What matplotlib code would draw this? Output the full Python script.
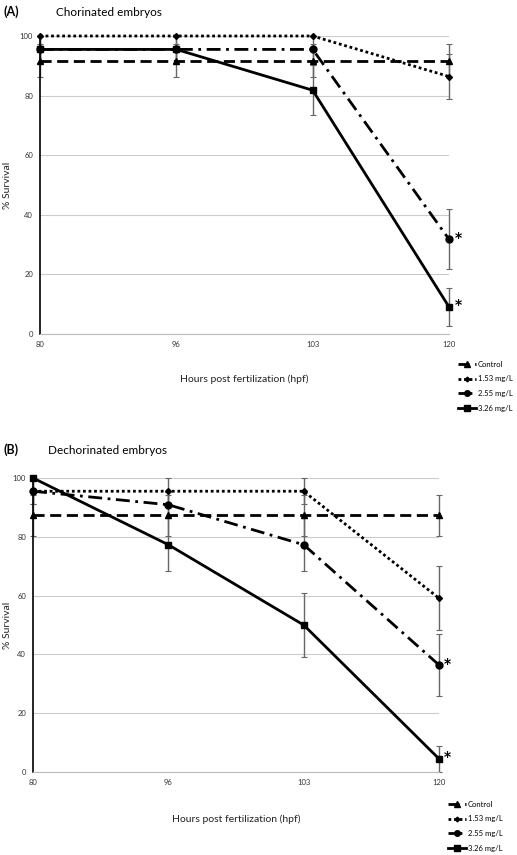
import matplotlib
matplotlib.use("Agg")
import matplotlib.pyplot as plt
import numpy as np

plt.rcParams["font.family"] = ["Lato", "DejaVu Sans"]

hours = ["80", "96", "103", "120"]
series = ["Control", "1.53 mg/L", "2.55 mg/L", "3.26 mg/L"]

# Panel A: chorinated
a_control = [91.7, 91.7, 91.7, 91.7]
a_153 = [100, 100, 100, 86.4]
a_255 = [95.5, 95.5, 95.5, 31.8]
a_326 = [95.5, 95.5, 81.8, 9.1]
a_control_err = [5.6, 5.6, 5.6, 5.6]
a_153_err = [0, 0, 0, 7.6]
a_255_err = [4.5, 4.5, 4.5, 10.1]
a_326_err = [4.5, 4.5, 8.4, 6.3]

# Panel B: dechorinated
b_control = [87.3, 87.3, 87.3, 87.3]
b_153 = [95.5, 95.5, 95.5, 59.1]
b_255 = [95.5, 90.9, 77.3, 36.4]
b_326 = [100, 77.3, 50.0, 4.5]
b_control_err = [6.9, 6.9, 6.9, 6.9]
b_153_err = [4.5, 4.5, 4.5, 10.8]
b_255_err = [4.5, 4.5, 9.1, 10.6]
b_326_err = [0, 9.1, 10.9, 4.5]

styles = [
    dict(ls=(0, (4, 2)), marker="^", ms=5),
    dict(ls=(0, (1, 1)), marker="D", ms=3),
    dict(ls=(0, (5, 2, 1, 2)), marker="o", ms=5),
    dict(ls="-", marker="s", ms=5),
]

fig = plt.figure(figsize=(5.17, 8.55), dpi=100)

def panel(rect, vals, errs, letter, title, title_x, title_y, xl_y, leg_y):
    ax = fig.add_axes(rect)
    x = np.arange(len(hours))
    for v, e in zip(vals, errs):
        c = ax.errorbar(x, v, yerr=e, fmt="none", ecolor="#666666", elinewidth=1.0,
                        capsize=2, capthick=0.8, zorder=2)
        for art in c.lines[1]:
            art.set_clip_on(False)
        for art in c.lines[2]:
            art.set_clip_on(False)
    handles = []
    for v, st, name in zip(vals, styles, series):
        h, = ax.plot(x, v, color="black", lw=2.0, ls=st["ls"], marker=st["marker"],
                     ms=st["ms"], mfc="black", mec="black", label=name, zorder=3,
                     clip_on=False)
        handles.append(h)
    for v in (vals[2], vals[3]):
        ax.text(x[-1] + 0.065, v[-1] + 0.5, "*", fontsize=10, fontweight="bold",
                ha="center", va="center", family="DejaVu Sans")
    ax.set_xlim(0, 3)
    ax.set_ylim(0, 100)
    ax.set_yticks(np.arange(0, 101, 20))
    ax.set_xticks(x)
    ax.set_xticklabels(hours)
    ax.yaxis.grid(True, color="#cccccc", lw=0.8)
    ax.set_axisbelow(True)
    for s in ("top", "right"):
        ax.spines[s].set_visible(False)
    ax.spines["left"].set_color("black")
    ax.spines["left"].set_linewidth(1.2)
    ax.spines["bottom"].set_color("#bbbbbb")
    ax.tick_params(length=0, labelsize=5.5, colors="#333333", pad=5)
    ax.set_ylabel("% Survival", fontsize=7.5, color="#222222")
    ax.yaxis.set_label_coords(-(rect[0] - 12 / 517) / rect[2], 0.5)
    fig.text(4 / 517, 1 - title_y / 855, letter, fontsize=9, fontweight="bold", va="center")
    fig.text(title_x / 517, 1 - title_y / 855, title, fontsize=8.5, va="center")
    cx = (rect[0] + rect[0] + rect[2]) / 2
    fig.text(cx, 1 - xl_y / 855, "Hours post fertilization (hpf)", fontsize=7.5,
             ha="center", va="center", color="#222222")
    fig.legend(handles, series, loc="upper left",
               bbox_to_anchor=(rect[0] + rect[2] + 0.01, 1 - leg_y / 855),
               frameon=False, fontsize=5.5, handlelength=2.4, handletextpad=0.2,
               labelspacing=1.0, borderpad=0, markerscale=0.8)
    return ax

panel([40 / 517, 1 - 334 / 855, 409 / 517, 298 / 855],
      [a_control, a_153, a_255, a_326],
      [a_control_err, a_153_err, a_255_err, a_326_err],
      "(A)", "Chorinated embryos", 56, 12, 379, 357)

panel([33 / 517, 1 - 772 / 855, 406 / 517, 294 / 855],
      [b_control, b_153, b_255, b_326],
      [b_control_err, b_153_err, b_255_err, b_326_err],
      "(B)", "Dechorinated embryos", 48, 450, 819, 797)

fig.savefig("out.png", dpi=100)
